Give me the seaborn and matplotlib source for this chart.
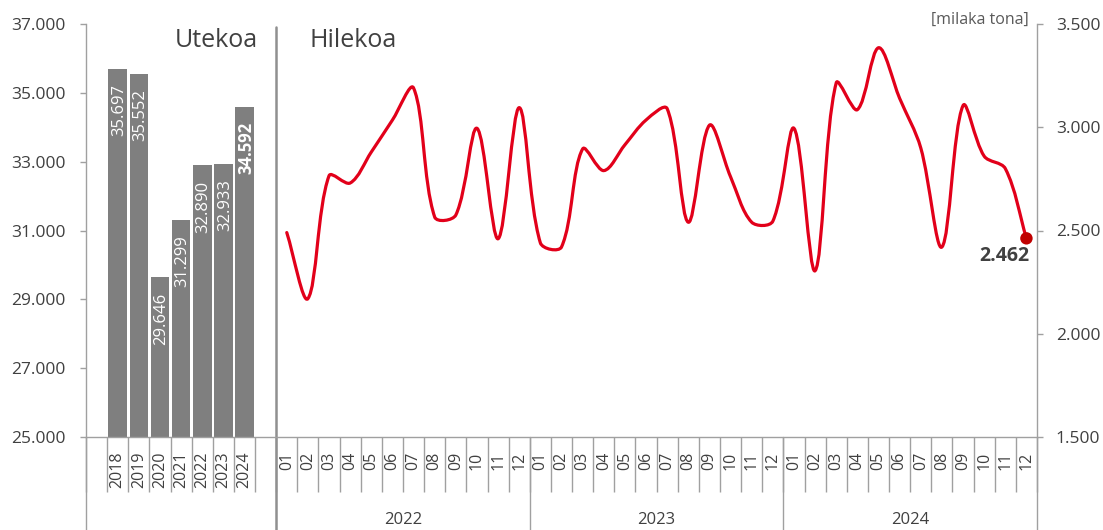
import matplotlib
matplotlib.use('Agg')
import matplotlib.pyplot as plt
import matplotlib.transforms as mtransforms
from matplotlib.path import Path
from matplotlib.patches import PathPatch
import seaborn as sns
import numpy as np
import pandas as pd

# annual totals (left axis)
years = ['2018', '2019', '2020', '2021', '2022', '2023', '2024']
annual = [35697, 35552, 29646, 31299, 32890, 32933, 34592]

# monthly values (right axis)
month_groups = ['2022', '2023', '2024']
months = ['01', '02', '03', '04', '05', '06', '07', '08', '09', '10', '11', '12']
monthly_2022 = [2490, 2170, 2765, 2730, 2880, 3035, 3190, 2565, 2575, 2995, 2460, 3095]
monthly_2023 = [2440, 2420, 2895, 2790, 2915, 3035, 3090, 2540, 3010, 2760, 2540, 2545]
monthly_2024 = [2995, 2305, 3215, 3085, 3385, 3140, 2900, 2420, 3105, 2860, 2800, 2462]

GRAY_BAR = '#7f7f7f'
RED = '#e2001a'
AXIS = '#a0a0a0'
TXT = '#404040'


def fmt(v):
    return f'{v:,}'.replace(',', '.')


def smooth_path(ax, xs, ys, tension=1/3):
    # excel-like smoothing, done in pixel space
    pts = ax.transData.transform(np.column_stack([xs, ys]))
    n = len(pts)
    verts = [pts[0]]
    codes = [Path.MOVETO]
    for i in range(n - 1):
        p0 = pts[max(i - 1, 0)]
        p1, p2 = pts[i], pts[i + 1]
        p3 = pts[min(i + 2, n - 1)]
        d01 = np.hypot(*(p1 - p0))
        d12 = np.hypot(*(p2 - p1))
        d23 = np.hypot(*(p3 - p2))
        c1 = p1 + tension * d12 / (d01 + d12) * (p2 - p0)
        c2 = p2 - tension * d12 / (d12 + d23) * (p3 - p1)
        verts += [c1, c2, p2]
        codes += [Path.CURVE4] * 3
    verts = ax.transData.inverted().transform(np.array(verts))
    return Path(verts, codes)


sns.set_style('white')
plt.rcParams['font.family'] = ['Open Sans', 'DejaVu Sans']

bar_x = np.arange(1, len(years) + 1)
monthly = monthly_2022 + monthly_2023 + monthly_2024
month_x = np.arange(len(years) + 2, len(years) + 2 + len(monthly))
n_slots = len(years) + 2 + len(monthly)

bars = pd.DataFrame({'x': bar_x, 'value': annual})

fig = plt.figure(figsize=(11.03, 5.30), dpi=100)
ax = fig.add_axes([86 / 1103, 93 / 530, 951 / 1103, 413 / 530])
ax2 = ax.twinx()

sns.barplot(data=bars, x='x', y='value', native_scale=True, width=0.88,
            color=GRAY_BAR, saturation=1, linewidth=0, ax=ax)

for i, (x, v) in enumerate(zip(bar_x, annual)):
    ax.annotate(fmt(v), (x, v), xytext=(1, -11), textcoords='offset points',
                rotation=90, ha='center', va='top', color='white', fontsize=12,
                fontweight='bold' if i == len(annual) - 1 else 'normal')

sns.scatterplot(x=[month_x[-1]], y=[monthly[-1]], ax=ax2, s=80,
                color='#c00000', edgecolor='none', zorder=6)

ax.set_xlim(-0.5, n_slots - 0.5)
ax.set_ylim(25000, 37000)
ax2.set_ylim(1500, 3500)
ax2.set_xlim(-0.5, n_slots - 0.5)

path = smooth_path(ax2, month_x, monthly)
ax2.add_patch(PathPatch(path, fill=False, edgecolor=RED, lw=2.3,
                        capstyle='round', joinstyle='round', zorder=5))

ax2.annotate(fmt(monthly[-1]), (month_x[-1], monthly[-1]), xytext=(2, -13),
             textcoords='offset points', ha='right', va='center',
             fontsize=14, fontweight='bold', color=TXT)

# y axes
ax.set_yticks(range(25000, 37001, 2000), [fmt(v) for v in range(25000, 37001, 2000)])
ax2.set_yticks(range(1500, 3501, 500), [fmt(v) for v in range(1500, 3501, 500)])
ax.tick_params(axis='y', length=4.5, width=1, color=AXIS, pad=10,
               labelsize=12.5, labelcolor=TXT, left=True)
ax2.tick_params(axis='y', length=4.5, width=1, color=AXIS, pad=9,
                labelsize=12.5, labelcolor=TXT, right=True)

# x axis: categories with separators
ax.set_xticks(list(bar_x) + list(month_x), years + months * len(month_groups))
ax.set_xticks(np.arange(-0.5, n_slots, 1), minor=True)
ax.tick_params(axis='x', which='major', length=0, pad=10.5, labelrotation=90,
               labelsize=11.5, labelcolor=TXT)
ax.tick_params(axis='x', which='minor', length=39.5, width=1, color=AXIS,
               bottom=True)
ax2.tick_params(axis='x', bottom=False, labelbottom=False)

for a in (ax, ax2):
    a.set_xlabel('')
    a.set_ylabel('')
    for s in a.spines.values():
        s.set_visible(False)
ax.spines['left'].set_visible(True)
ax.spines['bottom'].set_visible(True)
ax2.spines['right'].set_visible(True)
for s in (ax.spines['left'], ax.spines['bottom'], ax2.spines['right']):
    s.set_color(AXIS)
    s.set_linewidth(1)

# long separators down to the figure edge
low = -93 / 413
for x in [-0.5, month_x[0] - 0.5 + 12, month_x[0] - 0.5 + 24, n_slots - 0.5]:
    ax.axvline(x, ymin=low, ymax=0, color=AXIS, lw=1, clip_on=False)
ax.axvline(month_x[0] - 0.5, ymin=low, ymax=0.992, color='#909090', lw=1.8,
           clip_on=False)

trans = mtransforms.blended_transform_factory(ax.transData, ax.transAxes)
for k, g in enumerate(month_groups):
    cx = month_x[0] + 12 * k + 5.5
    ax.text(cx, -0.201, g, transform=trans, ha='center', va='center',
            fontsize=12, color=TXT)

ax.text(0.181, 0.959, 'Utekoa', transform=ax.transAxes, ha='right',
        va='center', fontsize=18, color=TXT)
ax.text(0.2345, 0.959, 'Hilekoa', transform=ax.transAxes, ha='left',
        va='center', fontsize=18, color=TXT)
ax.text(0.9916, 1.0097, '[milaka tona]', transform=ax.transAxes, ha='right',
        va='center', fontsize=11.5, color='#595959')

fig.savefig('out.png', dpi=100, facecolor='white')
